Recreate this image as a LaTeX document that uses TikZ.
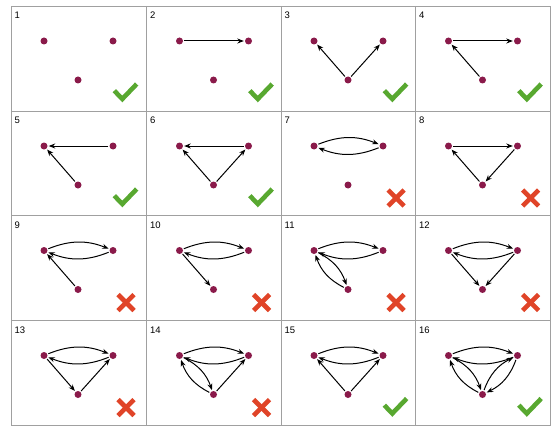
\documentclass[tikz,border=0pt]{standalone}
\usepackage{fontspec}
\setmainfont{Liberation Sans}
\usetikzlibrary{arrows.meta}
\definecolor{dotc}{RGB}{138,26,74}
\definecolor{okc}{RGB}{88,168,48}
\definecolor{noc}{RGB}{224,68,40}
\definecolor{gridc}{RGB}{160,160,160}
\tikzset{
  dotn/.style={circle,fill=dotc,draw=none,minimum size=7pt,inner sep=0pt},
  lbl/.style={anchor=base west,inner sep=0pt,font=\fontsize{9.5}{10}\selectfont},
  edge/.style={-{Stealth[length=6.5pt,width=5pt]},line width=1pt,shorten >=1pt,shorten <=1pt},
  okmark/.style={draw=okc,line width=4.6pt},
  nomark/.style={draw=noc,line width=4.6pt},
  gridline/.style={draw=gridc,line width=0.9pt}
}
\newcommand\mkcell[3]{%
  \node[dotn] (#1L) at (#2+33,#3+35) {};
  \node[dotn] (#1R) at (#2+102,#3+35) {};
  \node[dotn] (#1B) at (#2+67,#3+74) {};
  \node[lbl] (#1n) at (#2+3.5,#3+12.5) {#1};
}
\newcommand\okat[2]{%
  \draw[okmark] (#1+103.3,#2+84.7) -- (#1+111.3,#2+93) -- (#1+125.7,#2+78);
}
\newcommand\noat[2]{%
  \draw[nomark] (#1+107,#2+79) -- (#1+123,#2+95);
  \draw[nomark] (#1+107,#2+95) -- (#1+123,#2+79);
}
\begin{document}
\begin{tikzpicture}[x=1pt,y=-1pt]
\useasboundingbox (0,0) rectangle (552,428);
% grid
\draw[gridline] (11,6) rectangle (550.5,425);
\draw[gridline] (146.5,6) -- (146.5,425);
\draw[gridline] (281,6) -- (281,425);
\draw[gridline] (415.5,6) -- (415.5,425);
\draw[gridline] (11,111) -- (550.5,111);
\draw[gridline] (11,215.5) -- (550.5,215.5);
\draw[gridline] (11,320.5) -- (550.5,320.5);
% cells
\mkcell{1}{11}{6}
\mkcell{2}{146.5}{6}
\mkcell{3}{281}{6}
\mkcell{4}{415.5}{6}
\mkcell{5}{11}{111}
\mkcell{6}{146.5}{111}
\mkcell{7}{281}{111}
\mkcell{8}{415.5}{111}
\mkcell{9}{11}{215.5}
\mkcell{10}{146.5}{215.5}
\mkcell{11}{281}{215.5}
\mkcell{12}{415.5}{215.5}
\mkcell{13}{11}{320.5}
\mkcell{14}{146.5}{320.5}
\mkcell{15}{281}{320.5}
\mkcell{16}{415.5}{320.5}
% edges
\draw[edge] (2L) -- (2R);
\draw[edge] (3B) -- (3L);
\draw[edge] (3B) -- (3R);
\draw[edge] (4L) -- (4R);
\draw[edge] (4B) -- (4L);
\draw[edge] (5R) -- (5L);
\draw[edge] (5B) -- (5L);
\draw[edge] (6R) -- (6L);
\draw[edge] (6B) -- (6L);
\draw[edge] (6B) -- (6R);
\draw[edge] (7L) to[bend left=22] (7R);
\draw[edge] (7R) to[bend left=22] (7L);
\draw[edge] (8L) -- (8R);
\draw[edge] (8B) -- (8L);
\draw[edge] (8R) -- (8B);
\draw[edge] (9L) to[bend left=22] (9R);
\draw[edge] (9R) to[bend left=22] (9L);
\draw[edge] (9B) -- (9L);
\draw[edge] (10L) to[bend left=22] (10R);
\draw[edge] (10R) to[bend left=22] (10L);
\draw[edge] (10L) -- (10B);
\draw[edge] (11L) to[bend left=22] (11R);
\draw[edge] (11R) to[bend left=22] (11L);
\draw[edge] (11L) to[bend left=22] (11B);
\draw[edge] (11B) to[bend left=22] (11L);
\draw[edge] (12L) to[bend left=22] (12R);
\draw[edge] (12R) to[bend left=22] (12L);
\draw[edge] (12L) -- (12B);
\draw[edge] (12R) -- (12B);
\draw[edge] (13L) to[bend left=22] (13R);
\draw[edge] (13R) to[bend left=22] (13L);
\draw[edge] (13L) -- (13B);
\draw[edge] (13B) -- (13R);
\draw[edge] (14L) to[bend left=22] (14R);
\draw[edge] (14R) to[bend left=22] (14L);
\draw[edge] (14L) to[bend left=22] (14B);
\draw[edge] (14B) to[bend left=22] (14L);
\draw[edge] (14B) -- (14R);
\draw[edge] (15L) to[bend left=22] (15R);
\draw[edge] (15R) to[bend left=22] (15L);
\draw[edge] (15B) -- (15L);
\draw[edge] (15B) -- (15R);
\draw[edge] (16L) to[bend left=22] (16R);
\draw[edge] (16R) to[bend left=22] (16L);
\draw[edge] (16L) to[bend left=22] (16B);
\draw[edge] (16B) to[bend left=22] (16L);
\draw[edge] (16R) to[bend left=22] (16B);
\draw[edge] (16B) to[bend left=22] (16R);
% marks
\okat{11}{6}
\okat{146.5}{6}
\okat{281}{6}
\okat{415.5}{6}
\okat{11}{111}
\okat{146.5}{111}
\noat{281}{111}
\noat{415.5}{111}
\noat{11}{215.5}
\noat{146.5}{215.5}
\noat{281}{215.5}
\noat{415.5}{215.5}
\noat{11}{320.5}
\noat{146.5}{320.5}
\okat{281}{320.5}
\okat{415.5}{320.5}
\end{tikzpicture}
\end{document}
